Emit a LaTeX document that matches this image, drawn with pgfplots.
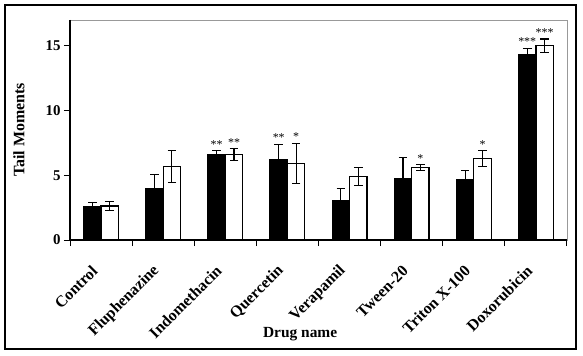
\documentclass[border=0pt]{standalone}
\usepackage{fontspec}
\setmainfont{Liberation Serif}
\usepackage{pgfplots}
\usepackage{pgfplotstable}
\pgfplotsset{compat=1.18}

\pgfplotstableread{
x y err lab
0 2.60 0.30 {}
1 4.00 1.08 {}
2 6.60 0.30 {**}
3 6.22 1.16 {**}
4 3.08 0.90 {}
5 4.77 1.60 {}
6 4.69 0.67 {}
7 14.30 0.52 {***}
}\blackdata

\pgfplotstableread{
x y err lab
0 2.62 0.36 {}
1 5.68 1.23 {}
2 6.60 0.44 {**}
3 5.92 1.54 {*}
4 4.90 0.70 {}
5 5.60 0.23 {*}
6 6.30 0.60 {*}
7 15.00 0.53 {***}
}\whitedata

\pgfplotsset{
  myerr/.style={
    error bars/y dir=both,
    error bars/y explicit,
    error bars/error bar style={line width=1.2bp, black},
    error bars/error mark options={rotate=90, mark size=4.3bp, line width=1.2bp, black},
  }
}

\begin{document}
\begin{tikzpicture}
\path[use as bounding box] (0,0) rectangle (583bp,356bp);
\draw[line width=1.2bp] (5bp,7bp) rectangle (576bp,351bp);
\begin{axis}[
  at={(70bp,116bp)}, anchor=south west,
  scale only axis, width=497bp, height=220bp,
  xmin=-0.5, xmax=7.5, ymin=0, ymax=17,
  ybar, bar width=0.28,
  axis line style={draw=gray!80, line width=0.8bp},
  tick pos=left, tick align=outside,
  tick style={black, line width=1bp},
  xtick={0,...,7},
  major x tick style={draw=none},
  minor xtick={-0.5,0.5,...,7.5},
  minor tick length=6bp,
  major tick length=6bp,
  xticklabels={Control,Fluphenazine,Indomethacin,Quercetin,Verapamil,Tween-20,Triton X-100,Doxorubicin},
  xticklabel style={xshift=-4bp, yshift=-20bp, rotate=45, anchor=east, font=\bfseries\fontsize{16}{16}\selectfont},
  ytick={0,5,10,15},
  /pgf/number format/assume math mode=true,
  yticklabel style={font=\bfseries\fontsize{15}{15}\selectfont},
  xlabel={Drug name},
  ylabel={Tail Moments},
  every axis x label/.style={at={(rel axis cs:0.463,0)}, yshift=-94bp, anchor=center, font=\bfseries\fontsize{15.5}{15.5}\selectfont},
  every axis y label/.style={at={(rel axis cs:0,0.5)}, xshift=-51bp, rotate=90, anchor=center, font=\bfseries\fontsize{16}{16}\selectfont},
  point meta=explicit symbolic,
  nodes near coords,
  visualization depends on={\thisrow{err}\as\myerrv},
  every node near coord/.append style={shift={(axis direction cs:0,\myerrv)}, anchor=base, yshift=2.5bp, inner sep=0pt, font=\fontsize{12}{12}\selectfont, black},
  after end axis/.code={
    \draw[black, line width=1.2bp] (rel axis cs:0,1) -- (rel axis cs:0,0) -- (rel axis cs:1,0);
  },
]
\addplot[fill=black, draw=black, line width=1.2bp, bar shift=-0.14, myerr]
  table[x=x, y=y, y error=err, meta=lab] {\blackdata};
\addplot[fill=white, draw=black, line width=1.2bp, bar shift=0.14, myerr]
  table[x=x, y=y, y error=err, meta=lab] {\whitedata};
\end{axis}
\end{tikzpicture}
\end{document}
